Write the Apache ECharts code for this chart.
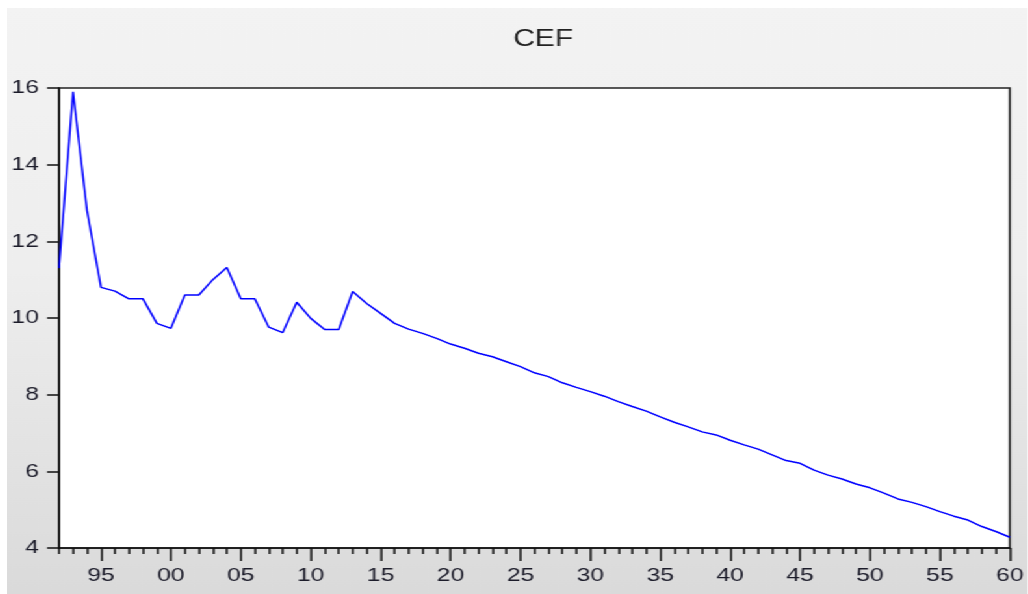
<!DOCTYPE html>
<html>
<head>
<meta charset="utf-8">
<title>CEF</title>
<script src="https://cdn.jsdelivr.net/npm/echarts@6/dist/echarts.min.js"></script>
<style>
  html, body { margin: 0; padding: 0; background: #ffffff; overflow: hidden; }
  /* The chart is laid out on a narrower canvas and widened by 1.3x,
     giving the broad, stretched lettering of the exported graph. */
  #chart {
    position: absolute; left: 7px; top: 8px; width: 785.4px; height: 586px;
    transform: scaleX(1.3); transform-origin: 0 0;
    background: linear-gradient(to bottom, #f3f3f3 0%, #eeeeee 45%, #dadada 100%);
  }
</style>
</head>
<body>
<div id="chart"></div>
<script>
// Annual observations, 1992-2060
const years = [];
for (let y = 1992; y <= 2060; y++) years.push(y);

const cef = [
  11.3, 15.9, 12.8, 10.8, 10.7, 10.5, 10.5, 9.86, 9.73, 10.6,   // 1992-2001
  10.6, 11.0, 11.32, 10.5, 10.5, 9.76, 9.62, 10.41, 9.99, 9.70, // 2002-2011
  9.70, 10.69, 10.38, 10.12, 9.86, 9.71, 9.60, 9.47, 9.32, 9.21, // 2012-2021
  9.08, 8.99, 8.86, 8.73, 8.57, 8.47, 8.31, 8.19, 8.08, 7.96,   // 2022-2031
  7.82, 7.69, 7.57, 7.42, 7.28, 7.16, 7.03, 6.95, 6.81, 6.69,   // 2032-2041
  6.58, 6.43, 6.28, 6.21, 6.03, 5.90, 5.80, 5.67, 5.57, 5.43,   // 2042-2051
  5.28, 5.19, 5.08, 4.95, 4.83, 4.73, 4.56, 4.43, 4.28          // 2052-2060
];

const yTicks = { min: 4, max: 16, step: 2 };
const titleText = 'CEF';

const isMajor = (i, v) => Number(v) % 5 === 0;
const twoDigit = v => String(v).slice(2);
const textColor = '#1c1c2a';
const font = 'Liberation Sans, Arial, sans-serif';
const ink = '#111';

const chart = echarts.init(document.getElementById('chart'), null, { renderer: 'canvas' });
chart.setOption({
  animation: false,
  backgroundColor: 'transparent',
  title: {
    text: titleText,
    left: 407.5, top: 15, textAlign: 'center',
    textStyle: { fontFamily: font, fontSize: 23, fontWeight: 'normal', color: '#222' }
  },
  grid: {
    left: 40, top: 80, right: 10.8, bottom: 46,
    show: true, backgroundColor: '#ffffff', borderColor: '#222', borderWidth: 1.5
  },
  xAxis: [
    {
      // yearly minor ticks
      type: 'category', data: years, boundaryGap: false, position: 'bottom',
      axisLine: { show: true, lineStyle: { color: ink, width: 1.5 } },
      axisTick: { show: true, interval: 0, length: 6, lineStyle: { color: ink, width: 1.5 } },
      axisLabel: { show: false },
      splitLine: { show: false }
    },
    {
      // five-year major ticks with two-digit labels
      type: 'category', data: years, boundaryGap: false, position: 'bottom',
      axisLine: { show: false },
      axisTick: { show: true, interval: isMajor, length: 13, lineStyle: { color: ink, width: 1.5 } },
      axisLabel: {
        show: true, interval: isMajor, formatter: twoDigit, margin: 18,
        fontFamily: font, fontSize: 19, color: textColor
      },
      splitLine: { show: false }
    }
  ],
  yAxis: {
    type: 'value', min: yTicks.min, max: yTicks.max, interval: yTicks.step,
    axisLine: { show: true, lineStyle: { color: ink, width: 1.5 } },
    axisTick: { show: true, length: 9.2, lineStyle: { color: ink, width: 1.5 } },
    axisLabel: { margin: 15.5, fontFamily: font, fontSize: 19, color: textColor },
    splitLine: { show: false }
  },
  series: [{
    name: titleText, type: 'line', xAxisIndex: 0, data: cef,
    showSymbol: false, symbol: 'none',
    lineStyle: { color: '#0000ff', width: 1.5 },
    itemStyle: { color: '#0000ff' }
  }]
});
</script>
</body>
</html>
